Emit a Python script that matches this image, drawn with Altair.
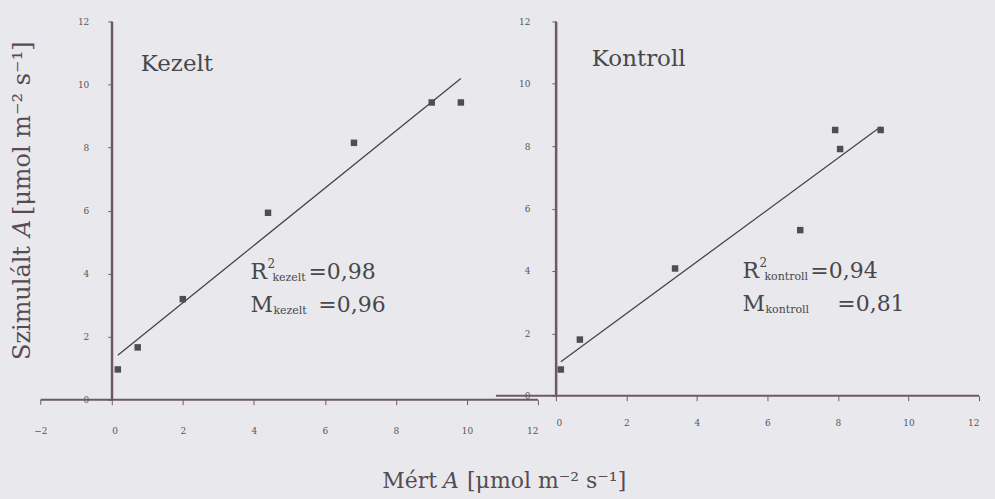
import altair as alt
import pandas as pd

# Measured vs simulated assimilation, treated plants
kezelt_mert = [0.17, 0.73, 2.0, 4.4, 6.82, 9.01, 9.83]
kezelt_szim = [0.96, 1.66, 3.19, 5.93, 8.15, 9.43, 9.43]

# Measured vs simulated assimilation, control plants
kontroll_mert = [0.14, 0.68, 3.38, 6.93, 7.92, 8.06, 9.21]
kontroll_szim = [0.84, 1.80, 4.08, 5.31, 8.52, 7.91, 8.52]

# Axis ranges and ticks
x_range = [0, 12]
y_range = [0, 12]
kezelt_axis_start = -2
kontroll_axis_start = -1.7
x_ticks = [0, 2, 4, 6, 8, 10, 12]
y_ticks = [0, 2, 4, 6, 8, 10, 12]

# Fit statistics shown in each panel
kezelt_stats = {"name": "Kezelt", "sub": "kezelt", "r2": "=0,98", "m": "=0,96"}
kontroll_stats = {"name": "Kontroll", "sub": "kontroll", "r2": "=0,94", "m": "=0,81"}

BG = "#e9e9ed"
AXIS = "#6b5a66"
INK = "#484848"
TITLE_INK = "#574b54"
TICK_INK = "#555555"
SERIF = "DejaVu Serif"


def text_layer(txt, x, y, size, color=INK, italic=False, angle=0, align="left", baseline="alphabetic"):
    kw = dict(font=SERIF, fontSize=size, color=color, align=align, baseline=baseline)
    if italic:
        kw["fontStyle"] = "italic"
    if angle:
        kw["angle"] = angle
    return alt.Chart(pd.DataFrame({"t": [txt]})).mark_text(**kw).encode(
        text="t:N", x=alt.value(x), y=alt.value(y)
    )


def anchor(x, y):
    # invisible point that fixes the outer bounds of the figure
    return alt.Chart(pd.DataFrame({"a": [0]})).mark_point(size=1, opacity=0).encode(
        x=alt.value(x), y=alt.value(y)
    )


def panel(xs, ys, axis_start, height, ylab_pad, xlab_pad, extra_tick=None):
    df = pd.DataFrame({"x": xs, "y": ys})
    xscale = alt.Scale(domain=x_range, nice=False, zero=False)
    yscale = alt.Scale(domain=y_range, nice=False)
    common = dict(tickColor=AXIS, tickWidth=1, labelColor=TICK_INK, labelFont=SERIF,
                  labelFontSize=9, grid=False, title=None, format="d")
    xenc = alt.X("x:Q", scale=xscale, axis=alt.Axis(
        values=x_ticks, labelPadding=xlab_pad, domain=False, tickSize=5, **common))
    yenc = alt.Y("y:Q", scale=yscale, axis=alt.Axis(
        values=y_ticks, labelPadding=ylab_pad, domain=True, domainColor=AXIS, domainWidth=2,
        tickSize=4, **common))
    base = alt.Chart(df)
    pts = base.mark_square(size=42, color="#4e4e4e", opacity=1).encode(x=xenc, y=yenc)
    fit = base.transform_regression("x", "y").mark_line(color="#454545", strokeWidth=1.3).encode(
        x=alt.X("x:Q", scale=xscale), y=alt.Y("y:Q", scale=yscale)
    )
    # horizontal axis line along y = 0, reaching left of the vertical axis
    xline = alt.Chart(pd.DataFrame({"lx": [axis_start], "lx2": [x_range[1]], "ly": [0]})).mark_rule(
        color=AXIS, strokeWidth=2
    ).encode(x=alt.X("lx:Q", scale=xscale), x2="lx2:Q", y=alt.Y("ly:Q", scale=yscale))
    # vertical axis line along x = 0
    yline = alt.Chart(pd.DataFrame({"vx": [0], "vy": [y_range[0]], "vy2": [y_range[1]]})).mark_rule(
        color=AXIS, strokeWidth=2
    ).encode(x=alt.X("vx:Q", scale=xscale), y=alt.Y("vy:Q", scale=yscale), y2="vy2:Q")
    layers = [xline, yline, fit, pts]
    if extra_tick is not None:
        # tick and label left of the vertical axis
        edf = pd.DataFrame({"ex": [extra_tick], "el": ["−2"]})
        layers.append(alt.Chart(edf).mark_rule(color=AXIS, strokeWidth=1).encode(
            x=alt.X("ex:Q", scale=xscale), y=alt.value(height), y2=alt.value(height + 5)))
        layers.append(alt.Chart(edf).mark_text(font=SERIF, fontSize=9, color=TICK_INK,
                                               baseline="top").encode(
            x=alt.X("ex:Q", scale=xscale), y=alt.value(height + 5 + xlab_pad), text="el:N"))
    return layers


def stats_layers(st, x0, y_r, y_m, m_val_x, r_val_x):
    return [
        text_layer("R", x0, y_r, 22),
        text_layer("2", x0 + 17, y_r - 11, 12),
        text_layer(st["sub"], x0 + 22, y_r + 2, 11),
        text_layer(st["r2"], r_val_x, y_r, 22),
        text_layer("M", x0, y_m, 22),
        text_layer(st["sub"], x0 + 23, y_m + 2, 11),
        text_layer(st["m"], m_val_x, y_m, 22),
    ]


# Left panel: Kezelt
left = alt.layer(
    *panel(kezelt_mert, kezelt_szim, kezelt_axis_start, 379, 19, 22, extra_tick=-2),
    text_layer(kezelt_stats["name"], 29, 50, 23),
    *stats_layers(kezelt_stats, 139, 258, 291, 207, 197),
    # vertical axis title
    text_layer("Szimulált", -89, 225, 24, TITLE_INK, angle=270, align="right", baseline="middle"),
    text_layer("A", -89, 216, 24, TITLE_INK, italic=True, angle=270, baseline="middle"),
    text_layer("[μmol m⁻² s⁻¹]", -89, 194, 24, TITLE_INK, angle=270, baseline="middle"),
    # horizontal axis title
    text_layer("Mért", 271, 467, 22, TITLE_INK),
    text_layer("A", 332, 467, 22, TITLE_INK, italic=True),
    text_layer("[μmol m⁻² s⁻¹]", 356, 467, 22, TITLE_INK),
    anchor(-111, -20),
).properties(width=427, height=379)

# Right panel: Kontroll
right = alt.layer(
    *panel(kontroll_mert, kontroll_szim, kontroll_axis_start, 375, 22, 18),
    text_layer(kontroll_stats["name"], 36, 45, 23),
    *stats_layers(kontroll_stats, 187, 257, 290, 282, 255),
    anchor(439, 479),
).properties(width=424, height=375)

chart = (
    alt.hconcat(left, right, spacing=18, bounds="flush")
    .properties(padding=0, background=BG)
    .configure_view(stroke=None)
)

chart.save("out.html", embed_options={"renderer": "svg", "actions": False})
